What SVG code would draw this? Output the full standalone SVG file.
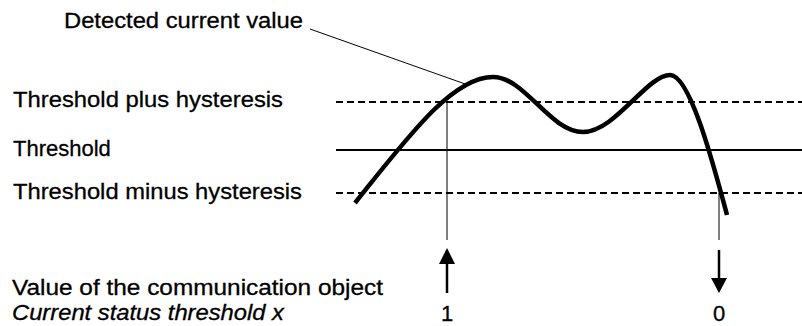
<svg xmlns="http://www.w3.org/2000/svg" width="802" height="326" viewBox="0 0 802 326">
<style>
text{font-family:"Liberation Sans",Arial,sans-serif;font-size:22px;fill:#000;stroke:#000;stroke-width:0.3}
.it{font-style:italic}
.dash{stroke:#000;stroke-width:2;stroke-dasharray:7 4;fill:none}
.solid{stroke:#000;stroke-width:2;fill:none}
.thin{stroke:#000;stroke-width:1;fill:none}
.curve{stroke:#000;stroke-width:4.5;fill:none;stroke-linejoin:round}
.arr{stroke:#000;stroke-width:2.5;fill:none}
</style>
<g id="labels">
<text x="13" y="107" textLength="270" lengthAdjust="spacingAndGlyphs">Threshold plus hysteresis</text>
<text x="13" y="156">Threshold</text>
<text x="13" y="199" textLength="289" lengthAdjust="spacingAndGlyphs">Threshold minus hysteresis</text>
<text x="12" y="295" textLength="371" lengthAdjust="spacingAndGlyphs">Value of the communication object</text>
<text class="it" x="12" y="320" textLength="272" lengthAdjust="spacingAndGlyphs">Current status threshold x</text>
</g>
<g id="levels">
<line class="dash" x1="336" y1="102" x2="802" y2="102"/>
<line class="solid" x1="336" y1="150" x2="802" y2="150"/>
<line class="dash" x1="336" y1="193" x2="802" y2="193"/>
</g>
<g id="connectors">
<line class="thin" x1="310" y1="29" x2="468" y2="85"/>
<line class="thin" x1="447" y1="102" x2="447" y2="240"/>
<line class="thin" x1="719" y1="193" x2="719" y2="240"/>
<path d="M447,293 L447,264" class="arr"/>
<path d="M439,264 L455,264 L447,248 Z" fill="#000"/>
<path d="M719,250 L719,278" class="arr"/>
<path d="M711,278 L727,278 L719,293 Z" fill="#000"/>
</g>
<g id="detected-value">
<text x="64" y="28" textLength="239" lengthAdjust="spacingAndGlyphs">Detected current value</text>
<path class="curve" d="M355,203 C407,138 452,77 493,77 C525,77 550,132 583,132 C615,132 647,75 670,75 C690,75 713,163 727,215"/>
</g>
<g id="output-1"><text x="447" y="321" text-anchor="middle">1</text></g>
<g id="output-0"><text x="719" y="321" text-anchor="middle">0</text></g>
</svg>
